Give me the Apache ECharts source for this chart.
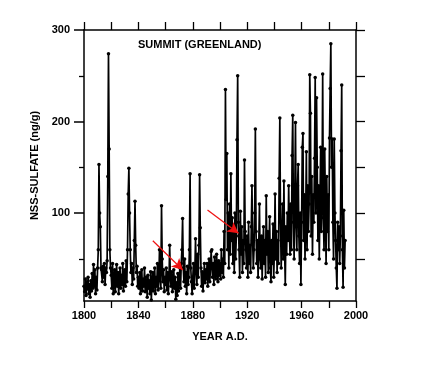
<!DOCTYPE html>
<html>
<head>
<meta charset="utf-8">
<script src="https://cdn.jsdelivr.net/npm/echarts@6/dist/echarts.min.js"></script>
<style>
html,body{margin:0;padding:0;background:#fff;}
#chart{width:432px;height:378px;}
</style>
</head>
<body>
<div id="chart"></div>
<script>
// Summit (Greenland) nss-sulfate, two samples per year starting 1800.0
const startYear = 1800;
const samplesPerYear = 2;
const sulfate = [
  20,14,28,10,25,17,30,12,22,8,26,15,34,18,44,20,38,12,30,16,        // 1800s
  40,60,153,100,85,40,38,25,42,30,45,22,40,35,48,140,274,170,60,40,  // 1810s
  32,18,45,12,28,38,14,30,44,20,35,12,26,40,18,32,22,45,15,30,       // 1820s
  38,20,48,25,60,121,149,100,60,35,45,22,40,28,70,113,65,35,42,20,   // 1830s
  30,18,35,12,25,38,15,28,20,40,14,30,22,8,32,18,26,12,36,5,         // 1840s
  24,35,15,28,40,12,30,20,45,16,26,60,32,18,108,50,25,38,14,30,      // 1850s
  22,40,16,35,12,28,65,30,20,36,14,26,38,18,30,6,24,10,34,15,        // 1860s
  28,40,18,45,60,94,40,25,50,20,35,12,42,22,30,60,143,40,25,12,      // 1870s
  30,45,18,35,72,40,22,55,30,65,142,84,40,20,36,15,30,45,24,38,      // 1880s
  28,45,20,38,50,25,40,58,60,30,45,22,52,35,28,55,40,25,48,32,       // 1890s
  45,28,60,35,50,30,80,45,235,115,165,60,100,40,110,55,143,70,95,45, // 1900s
  80,35,100,50,75,180,250,90,60,30,102,55,85,35,70,45,158,80,60,40,  // 1910s
  75,30,90,45,65,35,85,130,70,40,60,100,192,80,45,70,30,65,110,50,   // 1920s
  40,75,28,60,85,45,70,30,119,55,80,35,65,96,40,25,70,45,88,30,      // 1930s
  60,121,50,80,35,70,45,138,204,90,40,75,110,50,135,60,22,85,55,100, // 1940s
  70,130,80,55,110,60,163,207,90,50,120,199,85,60,130,153,75,45,100,22, // 1950s
  90,172,187,70,120,50,95,167,60,130,80,110,251,209,75,140,55,120,90,160, // 1960s
  248,100,226,150,70,130,50,110,172,80,120,252,95,60,170,110,45,140,80,120, // 1970s
  60,182,236,285,150,181,90,50,181,100,70,40,18,90,60,85,45,75,168,240, // 1980s
  60,19,103,40,70                                                     // 1990s
];
const xLabels = [1800, 1840, 1880, 1920, 1960, 2000];
const yLabels = [100, 200, 300];
const yMinorTicks = [50, 150, 250];
const yRightTicks = [50, 100, 150, 200, 250, 300];
const arrows = [
  [[1850.6, 69.8], [1872.7, 37.9]],
  [[1890.8, 103.3], [1913.6, 77.9]]
];

const seriesData = sulfate.map((v, i) => [startYear + i / samplesPerYear, v]);

const black = '#000';
const font = 'Liberation Sans, Arial, sans-serif';
const axisLine = { show: true, onZero: false, lineStyle: { color: black, width: 1.5 } };
const plain = v => String(v);

const chart = echarts.init(document.getElementById('chart'), null, { renderer: 'canvas' });
chart.setOption({
  animation: false,
  backgroundColor: '#fff',
  title: {
    text: 'SUMMIT (GREENLAND)',
    left: 138, top: 39, padding: 0,
    textStyle: { fontFamily: font, fontSize: 11, fontWeight: 'bold', color: black }
  },
  grid: { left: 84, top: 30, width: 272, height: 271, containLabel: false },
  xAxis: [
    {
      type: 'value', position: 'bottom', min: 1800, max: 2000, interval: 20,
      axisLine: axisLine,
      axisTick: { show: true, inside: false, length: 7, lineStyle: { color: black, width: 1.3 } },
      axisLabel: { customValues: xLabels, formatter: plain, margin: 9, fontFamily: font, fontSize: 11, fontWeight: 'bold', color: black },
      splitLine: { show: false },
      name: 'YEAR A.D.', nameLocation: 'middle', nameGap: 30,
      nameTextStyle: { fontFamily: font, fontSize: 11, fontWeight: 'bold', color: black }
    },
    {
      type: 'value', position: 'top', min: 1800, max: 2000, interval: 20,
      axisLine: axisLine,
      axisTick: { show: true, inside: false, length: 8, lineStyle: { color: black, width: 1.3 } },
      axisLabel: { show: false },
      splitLine: { show: false }
    }
  ],
  yAxis: [
    {
      type: 'value', position: 'left', min: 4, max: 300,
      axisLine: axisLine,
      axisTick: { show: true, customValues: yLabels, length: 10, lineStyle: { color: black, width: 1.5 } },
      axisLabel: { customValues: yLabels, formatter: plain, margin: 14, fontFamily: font, fontSize: 11, fontWeight: 'bold', color: black },
      splitLine: { show: false },
      name: 'NSS-SULFATE (ng/g)', nameLocation: 'middle', nameGap: 43, nameRotate: 90,
      nameTextStyle: { fontFamily: font, fontSize: 11, fontWeight: 'bold', color: black }
    },
    {
      type: 'value', position: 'left', min: 4, max: 300,
      axisLine: { show: false },
      axisTick: { show: true, customValues: yMinorTicks, length: 5, lineStyle: { color: black, width: 1.3 } },
      axisLabel: { show: false },
      splitLine: { show: false }
    },
    {
      type: 'value', position: 'right', min: 4, max: 300,
      axisLine: axisLine,
      axisTick: { show: true, customValues: yRightTicks, length: 9, lineStyle: { color: black, width: 1.3 } },
      axisLabel: { show: false },
      splitLine: { show: false }
    }
  ],
  series: [
    {
      type: 'line',
      xAxisIndex: 0, yAxisIndex: 0,
      data: seriesData,
      showSymbol: true, showAllSymbol: true,
      symbol: 'circle', symbolSize: 3.5,
      itemStyle: { color: black },
      lineStyle: { color: black, width: 1.7 },
      silent: true,
      markLine: {
        silent: true,
        symbol: ['none', 'arrow'],
        symbolSize: [9, 11],
        label: { show: false },
        lineStyle: { color: '#ee1111', width: 1.2, type: 'solid' },
        data: arrows.map(a => [{ coord: a[0] }, { coord: a[1] }])
      }
    }
  ]
});
</script>
</body>
</html>
